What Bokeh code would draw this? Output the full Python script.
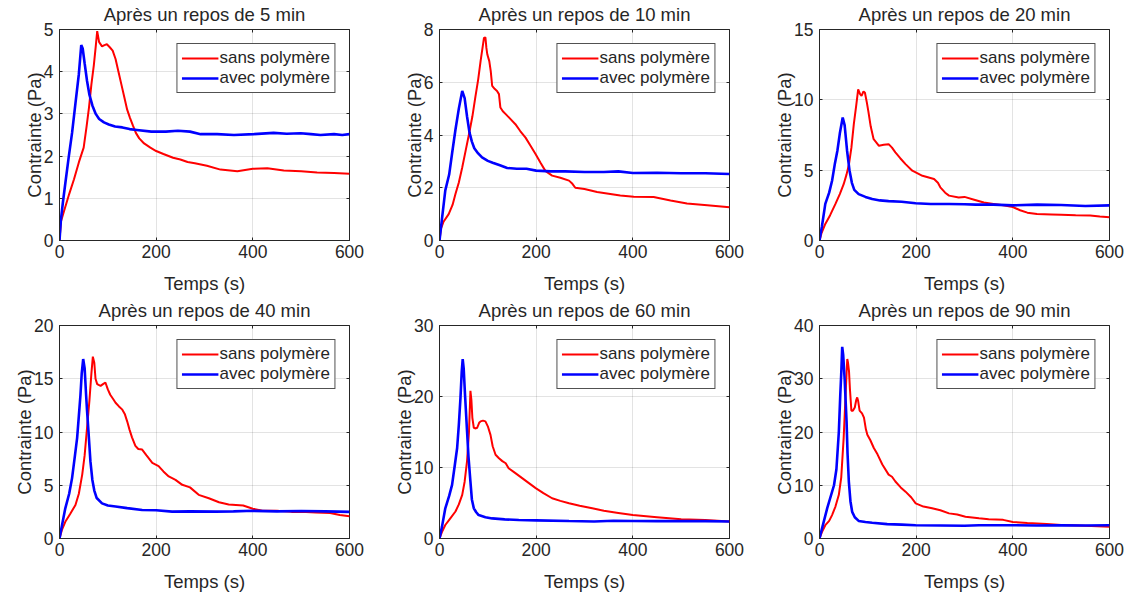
from bokeh.plotting import figure
from bokeh.layouts import column, row
from bokeh.models import Range1d, FixedTicker, LinearAxis
from bokeh.embed import file_html
from bokeh.resources import INLINE

# ---------------- data ----------------
TITLES = ["Après un repos de 5 min", "Après un repos de 10 min", "Après un repos de 20 min",
          "Après un repos de 40 min", "Après un repos de 60 min", "Après un repos de 90 min"]
Y_MAX = [5, 8, 15, 20, 30, 40]
Y_TICKS = [[0, 1, 2, 3, 4, 5], [0, 2, 4, 6, 8], [0, 5, 10, 15],
           [0, 5, 10, 15, 20], [0, 10, 20, 30], [0, 10, 20, 30, 40]]
X_TICKS = [0, 200, 400, 600]
SERIES_NAMES = ["sans polymère", "avec polymère"]

# 5 min
T5_SANS = [0, 3, 9, 20, 30, 40, 50, 56, 61, 66, 71, 75, 78, 82, 88, 93, 98, 104, 110, 116, 122, 128, 134,
           140, 146, 152, 158, 165, 175, 188, 200, 215, 235, 250, 265, 280, 305, 333, 368, 400, 430, 464,
           500, 533, 568, 600]
V5_SANS = [0, 0.45, 0.68, 1.1, 1.45, 1.85, 2.2, 2.7, 3.15, 3.7, 4.15, 4.6, 4.96, 4.7, 4.6, 4.63, 4.65, 4.58,
           4.5, 4.3, 4.0, 3.7, 3.4, 3.1, 2.9, 2.72, 2.55, 2.42, 2.3, 2.2, 2.12, 2.05, 1.96, 1.92, 1.86, 1.83,
           1.77, 1.68, 1.64, 1.7, 1.71, 1.66, 1.64, 1.61, 1.6, 1.58]
T5_AVEC = [0, 3, 7, 12, 19, 26, 33, 40, 45, 48, 52, 57, 62, 68, 75, 82, 92, 102, 115, 130, 145, 160, 190,
           220, 245, 270, 292, 326, 361, 402, 443, 470, 499, 520, 540, 568, 585, 600]
V5_AVEC = [0, 0.5, 0.9, 1.35, 1.97, 2.55, 3.25, 3.94, 4.63, 4.55, 4.2, 3.78, 3.45, 3.2, 3.0, 2.88, 2.8,
           2.75, 2.7, 2.68, 2.64, 2.62, 2.58, 2.58, 2.6, 2.58, 2.52, 2.52, 2.5, 2.52, 2.55, 2.53, 2.54, 2.52,
           2.5, 2.52, 2.5, 2.52]

# 10 min
T10_SANS = [0, 3, 8, 19, 27, 33, 40, 47, 54, 61, 68, 74, 80, 85, 89, 92, 95, 97, 99, 103, 106, 109, 114,
            119, 123, 126, 131, 137, 147, 157, 167, 178, 188, 199, 209, 219, 233, 250, 268, 275, 281, 300,
            326, 374, 402, 443, 478, 512, 554, 600]
V10_SANS = [0, 0.45, 0.7, 1.0, 1.35, 1.76, 2.2, 2.77, 3.4, 4.03, 4.7, 5.42, 6.1, 6.8, 7.3, 7.68, 7.7, 7.3,
            7.05, 6.8, 6.42, 5.86, 5.75, 5.67, 5.55, 5.04, 4.9, 4.79, 4.6, 4.41, 4.15, 3.9, 3.6, 3.27, 2.95,
            2.64, 2.46, 2.38, 2.27, 2.15, 2.0, 1.95, 1.84, 1.71, 1.66, 1.65, 1.52, 1.4, 1.34, 1.26]
T10_AVEC = [0, 5, 12, 20, 26, 33, 40, 47, 52, 57, 62, 67, 72, 80, 88, 100, 110, 125, 140, 160, 180, 200,
            230, 260, 300, 340, 370, 400, 450, 500, 550, 600]
V10_AVEC = [0, 0.8, 1.9, 2.5, 3.3, 4.2, 5.0, 5.67, 5.4, 4.7, 4.1, 3.75, 3.5, 3.3, 3.15, 3.02, 2.95, 2.85,
            2.75, 2.72, 2.72, 2.65, 2.62, 2.62, 2.6, 2.6, 2.62, 2.56, 2.57, 2.55, 2.55, 2.52]

# 20 min
T20_SANS = [0, 4, 12, 22, 33, 42, 50, 56, 61, 66, 71, 76, 80, 84, 87, 91, 94, 98, 101, 106, 112, 117, 123,
            133, 143, 150, 157, 167, 178, 192, 213, 237, 245, 250, 260, 268, 288, 300, 320, 340, 360, 380,
            400, 415, 430, 450, 480, 500, 530, 560, 580, 600]
V20_SANS = [0, 0.5, 1.18, 1.8, 2.6, 3.3, 4.0, 4.7, 5.43, 6.6, 8.27, 9.6, 10.75, 10.4, 10.28, 10.6, 10.5,
            9.8, 9.2, 8.1, 7.2, 7.0, 6.73, 6.8, 6.85, 6.6, 6.26, 5.85, 5.43, 4.96, 4.6, 4.37, 4.1, 3.78, 3.4,
            3.19, 3.05, 3.1, 2.9, 2.7, 2.6, 2.5, 2.38, 2.15, 1.98, 1.88, 1.85, 1.83, 1.8, 1.78, 1.7, 1.65]
T20_AVEC = [0, 5, 12, 20, 26, 32, 37, 42, 48, 52, 57, 62, 67, 72, 81, 95, 109, 125, 143, 170, 199, 230,
            268, 300, 323, 360, 400, 450, 500, 550, 600]
V20_AVEC = [0, 1.0, 2.6, 3.4, 4.25, 5.5, 6.38, 7.6, 8.74, 8.2, 6.4, 5.0, 4.1, 3.6, 3.3, 3.1, 2.95, 2.85,
            2.8, 2.75, 2.65, 2.6, 2.6, 2.58, 2.55, 2.55, 2.5, 2.55, 2.52, 2.45, 2.5]

# 40 min
T40_SANS = [0, 5, 12, 22, 33, 40, 47, 52, 57, 62, 66, 69, 72, 74.5, 78, 82, 85, 90, 95, 100, 105, 111, 116,
            123, 130, 135, 140, 145, 150, 157, 163, 171, 180, 192, 205, 215, 226, 240, 254, 270, 288, 309,
            330, 350, 380, 400, 420, 450, 480, 500, 530, 560, 580, 600]
V40_SANS = [0, 0.8, 1.57, 2.3, 3.15, 4.2, 6.0, 7.8, 10.4, 13.0, 15.5, 17.07, 16.5, 15.0, 14.5, 14.4, 14.33,
            14.5, 14.65, 14.0, 13.5, 13.1, 12.75, 12.4, 12.1, 11.7, 11.0, 10.2, 9.5, 8.7, 8.4, 8.35, 7.8, 7.1,
            6.8, 6.3, 5.83, 5.5, 5.04, 4.8, 4.1, 3.78, 3.4, 3.2, 3.1, 2.8, 2.6, 2.6, 2.5, 2.5, 2.45, 2.4,
            2.2, 2.1]
T40_AVEC = [0, 5, 12, 20, 26, 32, 36.5, 40, 43.4, 46, 49, 52, 55, 57, 60, 64, 68, 72, 77, 88, 100, 116,
            140, 171, 200, 233, 270, 323, 360, 400, 450, 500, 550, 600]
V40_AVEC = [0, 1.2, 2.83, 4.2, 5.67, 7.8, 9.45, 11.5, 13.5, 15.5, 16.85, 16.0, 13.5, 12.0, 10.0, 7.24, 5.5,
            4.5, 3.8, 3.3, 3.1, 3.0, 2.85, 2.68, 2.65, 2.52, 2.55, 2.52, 2.55, 2.6, 2.55, 2.58, 2.55, 2.5]

# 60 min
T60_SANS = [0, 5, 12, 22, 33, 40, 47, 52, 57, 61, 64, 66, 68, 71, 75, 78, 82, 85, 90, 95, 100, 105.5, 110,
            116, 123, 130, 137, 143, 157, 171, 185, 199, 215, 233, 250, 268, 290, 316, 340, 370, 400, 450,
            500, 550, 600]
V60_SANS = [0, 0.9, 1.9, 2.8, 3.8, 4.8, 6.14, 8.0, 10.9, 15.0, 20.8, 19.5, 17.0, 15.6, 15.5, 15.6, 16.3,
            16.5, 16.6, 16.5, 15.8, 14.6, 13.0, 11.8, 11.3, 10.9, 10.6, 9.9, 9.2, 8.5, 7.8, 7.1, 6.4, 5.67,
            5.3, 4.96, 4.6, 4.25, 3.9, 3.6, 3.3, 3.0, 2.7, 2.6, 2.4]
T60_AVEC = [0, 5, 12, 20, 26, 32, 36.5, 40, 43.4, 46, 48, 50, 53, 57, 60, 64, 67, 71, 76, 81, 95, 109, 135,
            164, 200, 268, 320, 360, 400, 450, 500, 550, 600]
V60_AVEC = [0, 1.6, 4.25, 6.0, 7.56, 10.5, 12.75, 16.0, 19.8, 23.5, 25.27, 24.0, 20.0, 15.1, 11.5, 8.0,
            5.5, 4.25, 3.7, 3.3, 3.0, 2.83, 2.7, 2.6, 2.55, 2.46, 2.4, 2.5, 2.46, 2.45, 2.45, 2.45, 2.4]

# 90 min
T90_SANS = [0, 5, 12, 20, 26, 33, 40, 45, 50, 53, 56, 57.5, 59, 61, 63, 66, 69, 73, 76, 78, 80, 83, 88, 92,
            96, 99, 105, 112.4, 120, 130, 143, 150, 157, 168, 178, 190, 199, 215, 233, 250, 268, 285, 302,
            330, 350, 380, 400, 430, 470, 500, 550, 600]
V90_SANS = [0, 1.2, 2.5, 3.3, 4.4, 6.0, 8.2, 11.5, 18.9, 25.0, 31.0, 33.7, 33.0, 31.5, 28.0, 24.0, 24.0,
            24.6, 26.0, 26.5, 25.8, 24.0, 23.5, 22.7, 20.5, 19.5, 18.5, 17.0, 15.8, 13.9, 12.0, 11.6, 10.7,
            9.6, 8.8, 7.7, 6.6, 6.0, 5.67, 5.3, 4.72, 4.5, 4.1, 3.8, 3.6, 3.5, 3.1, 2.9, 2.7, 2.55, 2.4, 2.2]
T90_AVEC = [0, 5, 16, 30, 35, 40, 43, 45, 47, 49, 52, 56, 58, 60.7, 64, 67.6, 73, 81, 95, 109, 140, 170,
            199, 250, 300, 330, 400, 450, 500, 550, 600]
V90_AVEC = [0, 1.8, 5.7, 10.0, 13.0, 20.0, 27.0, 31.0, 36.0, 34.5, 30.0, 22.0, 16.0, 10.7, 7.0, 5.0, 4.0,
            3.3, 3.1, 2.96, 2.7, 2.6, 2.5, 2.45, 2.4, 2.5, 2.5, 2.45, 2.5, 2.45, 2.5]

SANS = [(T5_SANS, V5_SANS), (T10_SANS, V10_SANS), (T20_SANS, V20_SANS),
        (T40_SANS, V40_SANS), (T60_SANS, V60_SANS), (T90_SANS, V90_SANS)]
AVEC = [(T5_AVEC, V5_AVEC), (T10_AVEC, V10_AVEC), (T20_AVEC, V20_AVEC),
        (T40_AVEC, V40_AVEC), (T60_AVEC, V60_AVEC), (T90_AVEC, V90_AVEC)]

# ---------------- style ----------------
FONT = "Liberation Sans"
TXT = "#262626"


def make_panel(i, width, height, border_right, border_bottom):
    ymax = Y_MAX[i]
    p = figure(width=width, height=height, x_range=Range1d(0, 600), y_range=Range1d(0, ymax),
               output_backend="svg", toolbar_location=None,
               min_border_left=59, min_border_right=border_right,
               min_border_top=29, min_border_bottom=border_bottom)
    p.background_fill_color = "white"
    p.border_fill_color = "white"
    p.outline_line_color = TXT
    p.outline_line_width = 1

    p.title.text = TITLES[i]
    p.title.align = "center"
    p.title.vertical_align = "top"
    p.title.text_font = FONT
    p.title.text_font_size = "18.5px"
    p.title.text_font_style = "normal"
    p.title.text_color = TXT
    p.title.standoff = 6

    xt = FixedTicker(ticks=X_TICKS)
    yt = FixedTicker(ticks=Y_TICKS[i])
    p.xaxis.ticker = xt
    p.yaxis.ticker = yt
    p.xgrid.ticker = xt
    p.ygrid.ticker = yt
    for g in (p.xgrid, p.ygrid):
        g.grid_line_color = TXT
        g.grid_line_alpha = 0.13

    for ax in (p.xaxis, p.yaxis):
        ax.axis_line_color = TXT
        ax.major_tick_line_color = TXT
        ax.major_tick_in = 3
        ax.major_tick_out = 0
        ax.minor_tick_line_color = None
        ax.major_label_text_font = FONT
        ax.major_label_text_font_size = "17.5px"
        ax.major_label_text_color = TXT
        ax.axis_label_text_font = FONT
        ax.axis_label_text_font_size = "18.5px"
        ax.axis_label_text_font_style = "normal"
        ax.axis_label_text_color = TXT
    p.xaxis.axis_label = "Temps (s)"
    p.yaxis.axis_label = "Contrainte (Pa)"
    p.xaxis.major_label_standoff = 4
    p.xaxis.axis_label_standoff = 12
    p.yaxis.major_label_standoff = 6
    p.yaxis.axis_label_standoff = -4

    # mirrored inward ticks on top and right (box on), no labels
    for loc, tk in (("right", yt), ("above", xt)):
        ax = LinearAxis(ticker=tk)
        ax.axis_line_color = None
        ax.major_tick_line_color = TXT
        ax.major_tick_in = 3
        ax.major_tick_out = 0
        ax.minor_tick_line_color = None
        ax.major_label_text_font_size = "1px"
        ax.major_label_text_color = None
        ax.major_label_standoff = 0
        p.add_layout(ax, loc)

    ts, vs = SANS[i]
    ta, va = AVEC[i]
    p.line(ts, vs, line_color="#ff0000", line_width=2, legend_label=SERIES_NAMES[0])
    p.line(ta, va, line_color="#0000ff", line_width=2.6, legend_label=SERIES_NAMES[1])

    lg = p.legend[0]
    lg.location = "top_right"
    lg.margin = 14
    lg.padding = 4
    lg.spacing = 0
    lg.glyph_width = 37
    lg.glyph_height = 20
    lg.label_height = 20
    lg.label_standoff = 1
    lg.label_text_font = FONT
    lg.label_text_font_size = "17px"
    lg.label_text_color = TXT
    lg.border_line_color = TXT
    lg.border_line_alpha = 0.8
    lg.border_line_width = 1
    lg.background_fill_color = "white"
    lg.background_fill_alpha = 1
    return p


widths = [380, 380, 371]
rights = [31, 31, 22]
row1 = [make_panel(i, widths[i], 296, rights[i], 54) for i in range(3)]
row2 = [make_panel(3 + i, widths[i], 300, rights[i], 58) for i in range(3)]
layout = column(row(*row1), row(*row2))

open("out.html", "w").write(file_html(layout, INLINE))
